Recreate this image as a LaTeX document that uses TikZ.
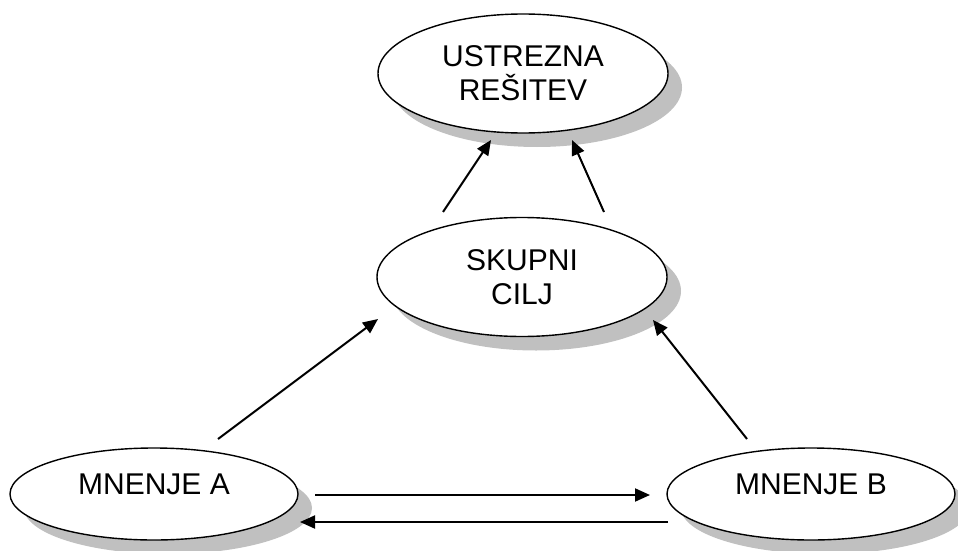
\documentclass[tikz,border=0pt]{standalone}
\usepackage{fontspec}
\setmainfont{Liberation Sans}
\usetikzlibrary{shapes.geometric,arrows.meta,shadows}
\definecolor{shadowgray}{RGB}{192,192,192}
\newcommand{\mytightlines}{\lineskiplimit=-40pt\relax}
\begin{document}
\begin{tikzpicture}[x=1pt,y=-1pt,
  ell/.style={ellipse,draw=black,line width=1.4pt,fill=white,inner sep=0pt,
    minimum width=290pt,minimum height=119pt,align=center,
    font={\fontsize{30}{34}\selectfont\mytightlines},
    drop shadow={shadow xshift=14pt,shadow yshift=-14pt,fill=shadowgray,opacity=1,draw=none}},
  ellsmall/.style={ell,minimum width=288pt,minimum height=92pt,text depth=20pt},
  arr/.style={line width=2pt,-{Triangle[length=15pt,width=13pt]}}]
\useasboundingbox (0,0) rectangle (958,551);
\node[ell] (res) at (523,73.5) {USTREZNA\\REŠITEV};
\node[ell] (cilj) at (522,277) {SKUPNI\\CILJ};
\node[ellsmall] (ma) at (154,494) {MNENJE A};
\node[ellsmall] (mb) at (811,494) {MNENJE B};
\coordinate (a1) at (218,439); \coordinate (a2) at (378,319);
\coordinate (b1) at (747,439); \coordinate (b2) at (653,320);
\coordinate (c1) at (443,212); \coordinate (c2) at (491,140);
\coordinate (d1) at (604,212); \coordinate (d2) at (572,140);
\coordinate (e1) at (315,495); \coordinate (e2) at (650,495);
\coordinate (f1) at (668,522); \coordinate (f2) at (300,522);
\draw[arr] (a1) -- (a2);
\draw[arr] (b1) -- (b2);
\draw[arr] (c1) -- (c2);
\draw[arr] (d1) -- (d2);
\draw[arr] (e1) -- (e2);
\draw[arr] (f1) -- (f2);
\end{tikzpicture}
\end{document}
